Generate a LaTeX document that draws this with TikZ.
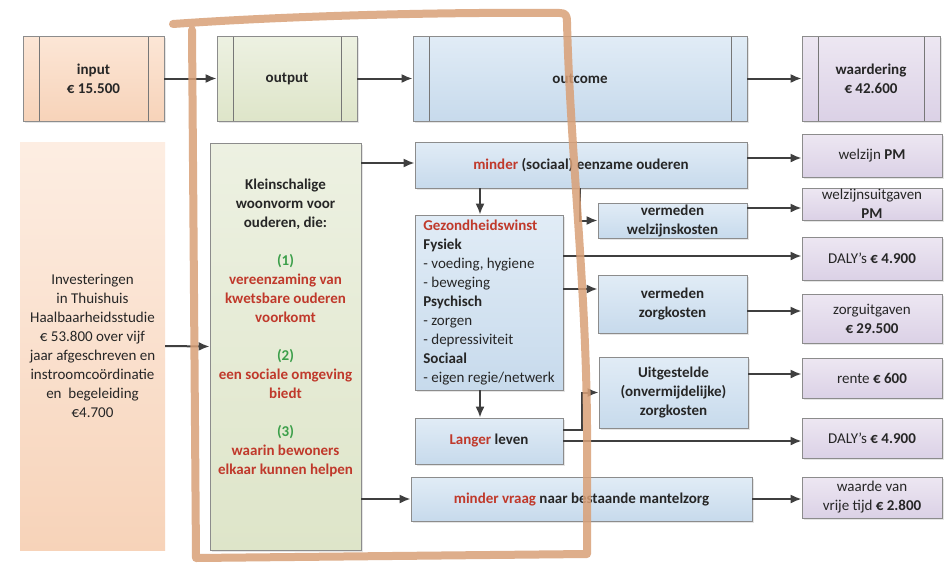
\documentclass[tikz,border=0pt]{standalone}
\usepackage{fontspec}
\setmainfont{Carlito}
\usepackage{tikz}
\usetikzlibrary{arrows.meta,shadows}

\definecolor{peachA}{HTML}{FCE6D6}
\definecolor{peachB}{HTML}{F7D3B9}
\definecolor{greenA}{HTML}{EDF1E2}
\definecolor{greenB}{HTML}{DEE5C9}
\definecolor{blueA}{HTML}{E1ECF6}
\definecolor{blueB}{HTML}{C7DAEC}
\definecolor{lilacA}{HTML}{EDE7F2}
\definecolor{lilacB}{HTML}{DBD1E6}
\definecolor{boxline}{HTML}{8C8C8C}
\definecolor{txt}{HTML}{262626}
\definecolor{redtxt}{HTML}{C0392B}
\definecolor{grntxt}{HTML}{3C9F4A}
\definecolor{arrowgray}{HTML}{3F3F3F}
\definecolor{penorange}{HTML}{D9A077}

\newcommand{\hired}[1]{\textcolor{redtxt}{#1}}
\newcommand{\higreen}[1]{\textcolor{grntxt}{#1}}

\begin{document}
\begin{tikzpicture}[x=1pt,y=-1pt,>={Latex[length=11pt,width=9pt]},
	box/.style={draw=boxline,line width=0.7pt,inner sep=1pt,align=center,text=txt,
		font=\fontsize{15}{19}\selectfont,
		drop shadow={shadow xshift=1.5pt,shadow yshift=-1.5pt,opacity=0.2}},
	bold/.style={font=\fontsize{15}{19}\selectfont\bfseries},
	peachbox/.style={box,top color=peachA,bottom color=peachB},
	greenbox/.style={box,top color=greenA,bottom color=greenB},
	bluebox/.style={box,top color=blueA,bottom color=blueB},
	lilacbox/.style={box,top color=lilacA,bottom color=lilacB,minimum width=140pt},
	tabbox/.style={minimum height=85pt,path picture={
		\draw[boxline!85!black,line width=0.7pt]
			([xshift=16pt]path picture bounding box.south west) -- ([xshift=16pt]path picture bounding box.north west)
			([xshift=-16pt]path picture bounding box.south east) -- ([xshift=-16pt]path picture bounding box.north east);}},
	conn/.style={->,draw=arrowgray,line width=2pt},
	pen/.style={draw=penorange,line width=8pt,opacity=0.85,line cap=round,line join=round}]
	%\draw [help lines,step=50] (0,0) grid (948,563);
	\fill[white] (0,0) rectangle (948,563);
	\useasboundingbox (0,0) rectangle (948,563);

	% top row
	\node[peachbox,tabbox,bold,minimum width=141pt] (input) at (93.5,78.5) {input\\€ 15.500};
	\node[greenbox,tabbox,bold,minimum width=140pt] (output) at (287,78.5) {output};
	\node[bluebox,tabbox,bold,minimum width=334pt] (outcome) at (580,78.5) {outcome};
	\node[lilacbox,tabbox,bold,minimum width=138pt] (waard) at (871,78.5) {waardering\\€ 42.600};

	% left
	\node[top color=peachA!70!white,bottom color=peachB,align=center,text=txt,
		font=\fontsize{15}{19}\selectfont,minimum width=145pt,minimum height=408pt] (invest) at (92.5,346)
		{Investeringen\\in Thuishuis\\Haalbaarheidsstudie\\€ 53.800 over vijf\\jaar afgeschreven en\\instroomcoördinatie\\en\ \ begeleiding\\€4.700};
	\node[greenbox,minimum width=151pt,minimum height=407pt] (klein) at (285.5,346.5) {};
	\node[align=center,text=txt,bold] (klein-txt) at ([yshift=19pt]klein.center)
		{Kleinschalige\\woonvorm voor\\ouderen, die:\\[19pt]
		\higreen{(1)}\\\hired{vereenzaming van}\\\hired{kwetsbare ouderen}\\\hired{voorkomt}\\[19pt]
		\higreen{(2)}\\\hired{een sociale omgeving}\\\hired{biedt}\\[19pt]
		\higreen{(3)}\\\hired{waarin bewoners}\\\hired{elkaar kunnen helpen}};

	% outcome column
	\node[bluebox,bold,minimum width=332pt,minimum height=46pt] (minsoc) at (581,165) {\hired{minder} (sociaal) eenzame ouderen};
	\node[bluebox,align=left,minimum width=148pt,minimum height=175pt] (gezond) at (489,302.5)
		{\hired{\bfseries Gezondheidswinst}\\\textbf{Fysiek}\\- voeding, hygiene\\- beweging\\\textbf{Psychisch}\\- zorgen\\- depressiviteit\\\textbf{Sociaal}\\- eigen regie/netwerk};
	\node[bluebox,bold,minimum width=148pt,minimum height=46pt] (langer) at (489,441) {\hired{Langer} leven};
	\node[bluebox,bold,minimum width=341pt,minimum height=44pt] (mvraag) at (581.5,499) {\hired{minder vraag} naar bestaande mantelzorg};

	\node[bluebox,bold,minimum width=149pt,minimum height=35pt] (vwelz) at (672.5,220.5) {vermeden\\welzijnskosten};
	\node[bluebox,bold,minimum width=149pt,minimum height=58pt] (vzorg) at (672.5,304) {vermeden\\zorgkosten};
	\node[bluebox,bold,minimum width=149pt,minimum height=71pt] (uitg) at (673.5,392.5) {Uitgestelde\\(onvermijdelijke)\\zorgkosten};

	% waardering column
	\node[lilacbox,minimum height=43pt] (welzijn) at (872,155.5) {welzijn \textbf{PM}};
	\node[lilacbox,minimum height=32pt] (welzuit) at (872,204) {welzijnsuitgaven\\\textbf{PM}};
	\node[lilacbox,minimum height=43pt] (daly1) at (872,258.5) {DALY’s \textbf{€ 4.900}};
	\node[lilacbox,minimum height=49pt] (zorguit) at (872,318.5) {zorguitgaven\\\textbf{€ 29.500}};
	\node[lilacbox,minimum height=40pt] (rente) at (872,378) {rente \textbf{€ 600}};
	\node[lilacbox,minimum height=40pt] (daly2) at (872,438) {DALY’s \textbf{€ 4.900}};
	\node[lilacbox,minimum height=41pt] (waarde) at (872,497.5) {waarde van\\vrije tijd \textbf{€ 2.800}};

	% connectors
	\draw[conn] (input.east) -- (output.west);
	\draw[conn] (output.east) -- (outcome.west);
	\draw[conn] (outcome.east) -- (waard.west);
	\draw[conn] (invest.east) -- (klein.west);
	\draw[conn] (klein.east |- 0,163) -- (minsoc.west |- 0,163);
	\draw[conn] (klein.east |- mvraag.west) -- (mvraag.west);
	\draw[conn] (minsoc.east |- 0,158) -- (welzijn.west |- 0,158);
	\draw[conn] (minsoc.south -| 480,0) -- (gezond.north -| 480,0);
	\draw[conn] (minsoc.south -| 580,0) |- (vwelz.west);
	\draw[conn] (vwelz.east |- 0,208) -- (welzuit.west |- 0,208);
	\draw[conn] (gezond.east |- 0,256) -- (daly1.west |- 0,256);
	\draw[conn] (gezond.east |- 0,289) -- (vzorg.west |- 0,289);
	\draw[conn] (vzorg.east |- 0,311) -- (zorguit.west |- 0,311);
	\draw[conn] (gezond.south -| 480,0) -- (langer.north -| 480,0);
	\draw[conn] (langer.east |- 0,430) -- ++(19,0) |- (uitg.west);
	\draw[conn] (uitg.east |- 0,374) -- (rente.west |- 0,374);
	\draw[conn] (langer.east |- 0,441) -- (daly2.west |- 0,441);
	\draw[conn] (mvraag.east) -- (waarde.west |- mvraag.east);

	% hand drawn frame
	\draw[pen] (173,24) .. controls (300,15) and (460,12) .. (560,13) .. controls (566,13) and (567,16) .. (567,22)
		.. controls (570,150) and (588,300) .. (587,450) -- (587,554) -- (196,558) -- (192,30);
\end{tikzpicture}
\end{document}
